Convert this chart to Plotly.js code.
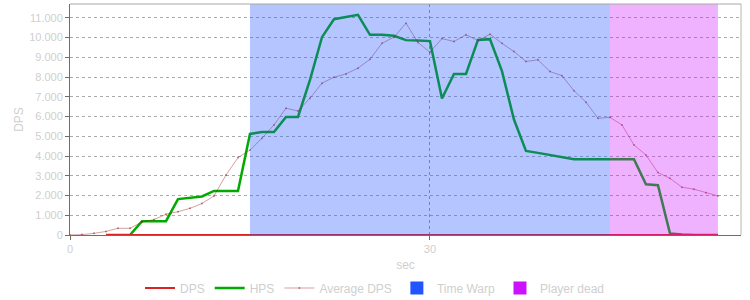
<!DOCTYPE html>
<html>
<head>
<meta charset="utf-8">
<script src="https://cdn.plot.ly/plotly-3.0.1.min.js"></script>
<style>html,body{margin:0;padding:0;background:#fff;}#chart{width:750px;height:300px;}</style>
</head>
<body>
<div id="chart"></div>
<script>
// Time (sec) of each sample
var secAvg = [0,1,2,3,4,5,6,7,8,9,10,11,12,13,14,15,16,17,18,19,20,21,22,23,24,25,26,27,28,29,30,31,32,33,34,35,36,37,38,39,40,41,42,43,44,45,46,47,48,49,50,51,52,53,54];
var averageDps = [0,20,85,180,340,340,660,780,1050,1180,1350,1600,1980,3040,3920,4300,4900,5575,6420,6280,6930,7690,7990,8160,8450,8900,9710,10020,10730,9750,9260,9950,9800,10140,9850,10170,9710,9290,8790,8870,8280,8070,7310,6730,5910,5960,5575,4560,4050,3160,2870,2420,2320,2140,1980];
var sec = [3,4,5,6,7,8,9,10,11,12,13,14,15,16,17,18,19,20,21,22,23,24,25,26,27,28,29,30,31,32,33,34,35,36,37,38,39,40,41,42,43,44,45,46,47,48,49,50,51,52,53,54];
var hps = [0,0,0,700,700,700,1820,1900,1950,2230,2230,2230,5120,5220,5220,5980,5980,7860,10020,10930,11040,11150,10140,10140,10090,9870,9850,9820,6910,8160,8160,9880,9920,8300,5850,4260,4160,4060,3950,3840,3840,3840,3840,3840,3840,2570,2520,80,20,0,0,0];
var dps = [0,0,0,0,0,0,0,0,0,0,0,0,0,0,0,0,0,0,0,0,0,0,0,0,0,0,0,0,0,0,0,0,0,0,0,0,0,0,0,0,0,0,0,0,0,0,0,0,0,0,0,0];
var timeWarp = [15, 45];
var playerDead = [45, 54];

var grey = '#cfcfcf';
var traces = [
  {x: sec, y: hps, name: 'HPS', type: 'scatter', mode: 'lines', legendrank: 2,
   line: {color: '#00aa00', width: 2.5}},
  {x: secAvg, y: averageDps, name: 'Average DPS', type: 'scatter', mode: 'lines+markers', legendrank: 3,
   line: {color: 'rgba(150,20,20,0.4)', width: 1}, marker: {size: 2, color: 'rgba(150,20,20,0.5)'}},
  {x: sec, y: dps, name: 'DPS', type: 'scatter', mode: 'lines', legendrank: 1,
   line: {color: '#dd2222', width: 2}},
  {x: [null], y: [null], name: 'Time Warp', type: 'scatter', mode: 'markers', legendrank: 4,
   marker: {symbol: 'square', size: 13, color: '#2255ff'}},
  {x: [null], y: [null], name: 'Player dead', type: 'scatter', mode: 'markers', legendrank: 5,
   marker: {symbol: 'square', size: 13, color: '#cc11ff'}}
];

var layout = {
  width: 750, height: 300,
  margin: {l: 70, r: 9, t: 4, b: 65, autoexpand: false},
  paper_bgcolor: '#fff', plot_bgcolor: '#fff',
  separators: ',.',
  font: {family: 'Liberation Sans, Arial, sans-serif', size: 11, color: grey},
  showlegend: true,
  legend: {orientation: 'h', x: 0.5, xanchor: 'center', xref: 'container', yref: 'container',
           y: 12 / 300, yanchor: 'middle',
           font: {size: 12, color: grey}, itemwidth: 30, traceorder: 'normal'},
  xaxis: {range: [0, 55.92], dtick: 30, tick0: 0, showgrid: true, gridcolor: '#999',
          griddash: '3px,3px', gridwidth: 1, zeroline: false, showline: true, linecolor: '#707060',
          linewidth: 1, ticks: 'outside', ticklen: 4, tickcolor: '#707060',
          title: {text: 'sec', font: {size: 12, color: grey}, standoff: 6},
          tickfont: {size: 11, color: grey}},
  yaxis: {range: [0, 11700], dtick: 1000, tickformat: ',d', showgrid: true, gridcolor: '#aaa',
          griddash: '3px,3px', gridwidth: 1, zeroline: false, showline: true, linecolor: '#707060',
          linewidth: 1, ticks: 'outside', ticklen: 4, tickcolor: '#707060',
          title: {text: 'DPS', font: {size: 12, color: grey}, standoff: 2},
          tickfont: {size: 11, color: grey}},
  shapes: [
    {type: 'rect', xref: 'x', yref: 'paper', x0: timeWarp[0], x1: timeWarp[1], y0: 0, y1: 1,
     fillcolor: '#2255ff', opacity: 0.34, line: {width: 0}, layer: 'above'},
    {type: 'rect', xref: 'x', yref: 'paper', x0: playerDead[0], x1: playerDead[1], y0: 0, y1: 1,
     fillcolor: '#cc11ff', opacity: 0.32, line: {width: 0}, layer: 'above'},
    {type: 'line', xref: 'paper', yref: 'paper', x0: 0, x1: 1, y0: 1, y1: 1,
     line: {color: '#a8a8a0', width: 1}, layer: 'above'},
    {type: 'line', xref: 'paper', yref: 'paper', x0: 1, x1: 1, y0: 0, y1: 1,
     line: {color: '#b8b8a8', width: 1}, layer: 'above'}
  ]
};

Plotly.newPlot('chart', traces, layout, {displayModeBar: false, staticPlot: true});
</script>
</body>
</html>
